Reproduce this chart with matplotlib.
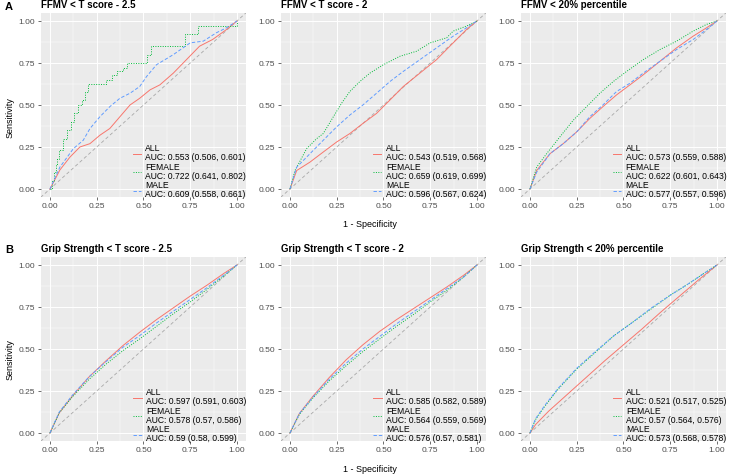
import matplotlib
matplotlib.use('Agg')
import matplotlib.pyplot as plt
from matplotlib.lines import Line2D

plt.rcParams['font.family'] = ['Liberation Sans', 'DejaVu Sans']

# ---- data (FPR = 1 - specificity, TPR = sensitivity) ----
groups = ['ALL', 'FEMALE', 'MALE']

# A1: FFMV < T score - 2.5
a1_all_fpr = [0, 0.053, 0.107, 0.16, 0.214, 0.267, 0.32, 0.374, 0.428, 0.48, 0.535, 0.588, 0.66, 0.73, 0.80, 0.87, 0.945, 1]
a1_all_tpr = [0, 0.113, 0.19, 0.25, 0.27, 0.32, 0.36, 0.43, 0.50, 0.54, 0.59, 0.62, 0.69, 0.77, 0.85, 0.89, 0.95, 1]
a1_fem_fpr = [0, 0.01, 0.02, 0.03, 0.04, 0.05, 0.07, 0.09, 0.11, 0.13, 0.15, 0.17, 0.19, 0.205, 0.285, 0.30, 0.33, 0.36, 0.39, 0.41, 0.50, 0.52, 0.54, 0.70, 0.72, 0.78, 0.79, 0.91, 1.0]
a1_fem_tpr = [0, 0.05, 0.10, 0.15, 0.18, 0.23, 0.30, 0.35, 0.40, 0.45, 0.50, 0.53, 0.58, 0.625, 0.625, 0.65, 0.68, 0.70, 0.72, 0.75, 0.75, 0.80, 0.85, 0.85, 0.92, 0.92, 0.97, 0.97, 1.0]
a1_mal_fpr = [0, 0.053, 0.125, 0.178, 0.214, 0.267, 0.32, 0.374, 0.428, 0.48, 0.517, 0.57, 0.66, 0.75, 0.82, 0.89, 0.945, 1]
a1_mal_tpr = [0, 0.13, 0.24, 0.29, 0.36, 0.43, 0.49, 0.54, 0.57, 0.61, 0.67, 0.74, 0.80, 0.87, 0.88, 0.93, 0.96, 1]
a1_auc = ['0.553 (0.506, 0.601)', '0.722 (0.641, 0.802)', '0.609 (0.558, 0.661)']

# A2: FFMV < T score - 2
a2_all_fpr = [0, 0.036, 0.107, 0.178, 0.25, 0.32, 0.39, 0.463, 0.535, 0.606, 0.695, 0.784, 0.855, 0.945, 1]
a2_all_tpr = [0, 0.11, 0.16, 0.22, 0.28, 0.33, 0.39, 0.45, 0.53, 0.61, 0.69, 0.77, 0.85, 0.95, 1]
a2_fem_fpr = [0, 0.027, 0.089, 0.143, 0.178, 0.232, 0.276, 0.32, 0.374, 0.428, 0.5, 0.588, 0.677, 0.75, 0.838, 0.873, 0.945, 1]
a2_fem_tpr = [0, 0.11, 0.24, 0.30, 0.33, 0.43, 0.51, 0.58, 0.64, 0.69, 0.74, 0.79, 0.82, 0.87, 0.90, 0.94, 0.97, 1]
a2_mal_fpr = [0, 0.036, 0.107, 0.178, 0.25, 0.32, 0.39, 0.463, 0.535, 0.606, 0.695, 0.784, 0.873, 0.945, 1]
a2_mal_tpr = [0, 0.13, 0.21, 0.29, 0.37, 0.44, 0.50, 0.57, 0.64, 0.70, 0.77, 0.84, 0.91, 0.96, 1]
a2_auc = ['0.543 (0.519, 0.568)', '0.659 (0.619, 0.699)', '0.596 (0.567, 0.624)']

# A3: FFMV < 20% percentile
a3_all_fpr = [0, 0.036, 0.107, 0.178, 0.25, 0.32, 0.39, 0.463, 0.535, 0.606, 0.695, 0.784, 0.873, 0.945, 1]
a3_all_tpr = [0, 0.11, 0.21, 0.27, 0.34, 0.42, 0.49, 0.56, 0.62, 0.68, 0.76, 0.84, 0.91, 0.96, 1]
a3_fem_fpr = [0, 0.036, 0.089, 0.16, 0.232, 0.303, 0.374, 0.446, 0.517, 0.606, 0.695, 0.784, 0.873, 0.945, 1]
a3_fem_tpr = [0, 0.13, 0.21, 0.31, 0.41, 0.49, 0.57, 0.64, 0.70, 0.77, 0.83, 0.88, 0.94, 0.98, 1]
a3_mal_fpr = [0, 0.036, 0.107, 0.178, 0.25, 0.32, 0.39, 0.463, 0.535, 0.606, 0.695, 0.784, 0.873, 0.945, 1]
a3_mal_tpr = [0, 0.10, 0.21, 0.27, 0.34, 0.43, 0.50, 0.58, 0.63, 0.69, 0.76, 0.83, 0.89, 0.95, 1]
a3_auc = ['0.573 (0.559, 0.588)', '0.622 (0.601, 0.643)', '0.577 (0.557, 0.596)']

# B1: Grip Strength < T score - 2.5
b1_fpr = [0, 0.05, 0.12, 0.21, 0.30, 0.39, 0.48, 0.57, 0.66, 0.75, 0.84, 0.93, 1]
b1_all_tpr = [0, 0.12, 0.22, 0.335, 0.43, 0.52, 0.60, 0.675, 0.745, 0.815, 0.88, 0.95, 1]
b1_fem_tpr = [0, 0.12, 0.215, 0.32, 0.41, 0.49, 0.56, 0.635, 0.71, 0.78, 0.855, 0.935, 1]
b1_mal_tpr = [0, 0.125, 0.225, 0.335, 0.425, 0.51, 0.58, 0.655, 0.725, 0.795, 0.865, 0.94, 1]
b1_auc = ['0.597 (0.591, 0.603)', '0.578 (0.57, 0.586)', '0.59 (0.58, 0.599)']

# B2: Grip Strength < T score - 2
b2_fpr = [0, 0.05, 0.12, 0.21, 0.30, 0.39, 0.48, 0.57, 0.66, 0.75, 0.84, 0.93, 1]
b2_all_tpr = [0, 0.115, 0.215, 0.33, 0.435, 0.525, 0.605, 0.675, 0.74, 0.805, 0.87, 0.94, 1]
b2_fem_tpr = [0, 0.11, 0.205, 0.31, 0.40, 0.485, 0.56, 0.635, 0.705, 0.78, 0.85, 0.93, 1]
b2_mal_tpr = [0, 0.115, 0.21, 0.32, 0.415, 0.50, 0.575, 0.65, 0.72, 0.79, 0.86, 0.93, 1]
b2_auc = ['0.585 (0.582, 0.589)', '0.564 (0.559, 0.569)', '0.576 (0.57, 0.581)']

# B3: Grip Strength < 20% percentile
b3_all_fpr = [0, 0.03, 0.10, 0.20, 0.30, 0.40, 0.50, 0.60, 0.70, 0.80, 0.90, 1]
b3_all_tpr = [0, 0.05, 0.13, 0.23, 0.33, 0.43, 0.525, 0.62, 0.72, 0.815, 0.91, 1]
b3_fpr = [0, 0.03, 0.08, 0.15, 0.25, 0.35, 0.45, 0.55, 0.65, 0.75, 0.85, 0.93, 1]
b3_fem_tpr = [0, 0.08, 0.16, 0.26, 0.38, 0.48, 0.58, 0.66, 0.74, 0.82, 0.89, 0.95, 1]
b3_mal_tpr = [0, 0.085, 0.165, 0.265, 0.385, 0.485, 0.58, 0.66, 0.745, 0.82, 0.89, 0.95, 1]
b3_auc = ['0.521 (0.517, 0.525)', '0.57 (0.564, 0.576)', '0.573 (0.568, 0.578)']

titles = ['FFMV < T score - 2.5', 'FFMV < T score - 2', 'FFMV < 20% percentile',
          'Grip Strength < T score - 2.5', 'Grip Strength < T score - 2', 'Grip Strength < 20% percentile']

panels = [
    [(a1_all_fpr, a1_all_tpr), (a1_fem_fpr, a1_fem_tpr), (a1_mal_fpr, a1_mal_tpr), a1_auc],
    [(a2_all_fpr, a2_all_tpr), (a2_fem_fpr, a2_fem_tpr), (a2_mal_fpr, a2_mal_tpr), a2_auc],
    [(a3_all_fpr, a3_all_tpr), (a3_fem_fpr, a3_fem_tpr), (a3_mal_fpr, a3_mal_tpr), a3_auc],
    [(b1_fpr, b1_all_tpr), (b1_fpr, b1_fem_tpr), (b1_fpr, b1_mal_tpr), b1_auc],
    [(b2_fpr, b2_all_tpr), (b2_fpr, b2_fem_tpr), (b2_fpr, b2_mal_tpr), b2_auc],
    [(b3_all_fpr, b3_all_tpr), (b3_fpr, b3_fem_tpr), (b3_fpr, b3_mal_tpr), b3_auc],
]

colors = ['#F8766D', '#00BA38', '#619CFF']
styles = ['-', (0, (1, 1.5)), (0, (3.5, 2))]
ticks = [0, 0.25, 0.5, 0.75, 1.0]
ticklabels = ['0.00', '0.25', '0.50', '0.75', '1.00']

W, H = 730, 475
fig = plt.figure(figsize=(W / 100, H / 100), dpi=100)

lefts = [40.6, 280.6, 520.6]
tops = [12.6, 256.6]
pw, ph = 205.7, 184.8

for i, (title, panel) in enumerate(zip(titles, panels)):
    r, c = divmod(i, 3)
    ax = fig.add_axes([lefts[c] / W, 1 - (tops[r] + ph) / H, pw / W, ph / H])
    ax.set_facecolor('#EBEBEB')
    for s in ax.spines.values():
        s.set_visible(False)
    ax.set_xlim(-0.05, 1.05)
    ax.set_ylim(-0.05, 1.05)
    ax.set_xticks(ticks)
    ax.set_xticklabels(ticklabels)
    ax.set_yticks(ticks)
    ax.set_yticklabels(ticklabels)
    ax.set_xticks([0.125, 0.375, 0.625, 0.875], minor=True)
    ax.set_yticks([0.125, 0.375, 0.625, 0.875], minor=True)
    ax.grid(which='major', color='white', lw=0.7)
    ax.grid(which='minor', color='white', lw=0.35)
    ax.set_axisbelow(True)
    ax.tick_params(which='major', length=2.5, width=0.5, color='#333333',
                   labelcolor='#4D4D4D', labelsize=6, pad=1.5)
    ax.tick_params(which='minor', length=0)

    ax.axline((0, 0), (1, 1), color='#A8A8A8', lw=0.6, ls=(0, (4, 3)), zorder=1)

    handles, labels = [], []
    for k in range(3):
        fpr, tpr = panel[k]
        ds = 'steps-post' if (i == 0 and k == 1) else 'default'
        ax.plot(fpr, tpr, color=colors[k], ls=styles[k], lw=0.7, drawstyle=ds, zorder=2)
        handles.append(Line2D([], [], color=colors[k], ls=styles[k], lw=0.7))
        labels.append(groups[k] + '\nAUC: ' + panel[3][k])

    ax.set_title(title, loc='left', fontsize=7, fontweight='bold', pad=3)
    leg = ax.legend(handles, labels, loc='lower right', bbox_to_anchor=(1.0, -0.01),
                    frameon=False, fontsize=6.2, handlelength=1.0, handletextpad=0.5,
                    labelspacing=0.05, borderpad=0, borderaxespad=0)
    for t in leg.get_texts():
        t.set_linespacing(1.0)

fig.text(5 / W, 1 - 7 / H, 'A', fontsize=8, fontweight='bold', va='center')
fig.text(5 / W, 1 - 250 / H, 'B', fontsize=8, fontweight='bold', va='center')
for yc in [118, 360]:
    fig.text(10 / W, 1 - yc / H, 'Sensitivity', rotation=90, fontsize=6.5, va='center', ha='center')
for yc in [225, 470]:
    fig.text(370 / W, 1 - yc / H, '1 - Specificity', fontsize=6.5, va='center', ha='center')

fig.savefig('out.png', dpi=100)
